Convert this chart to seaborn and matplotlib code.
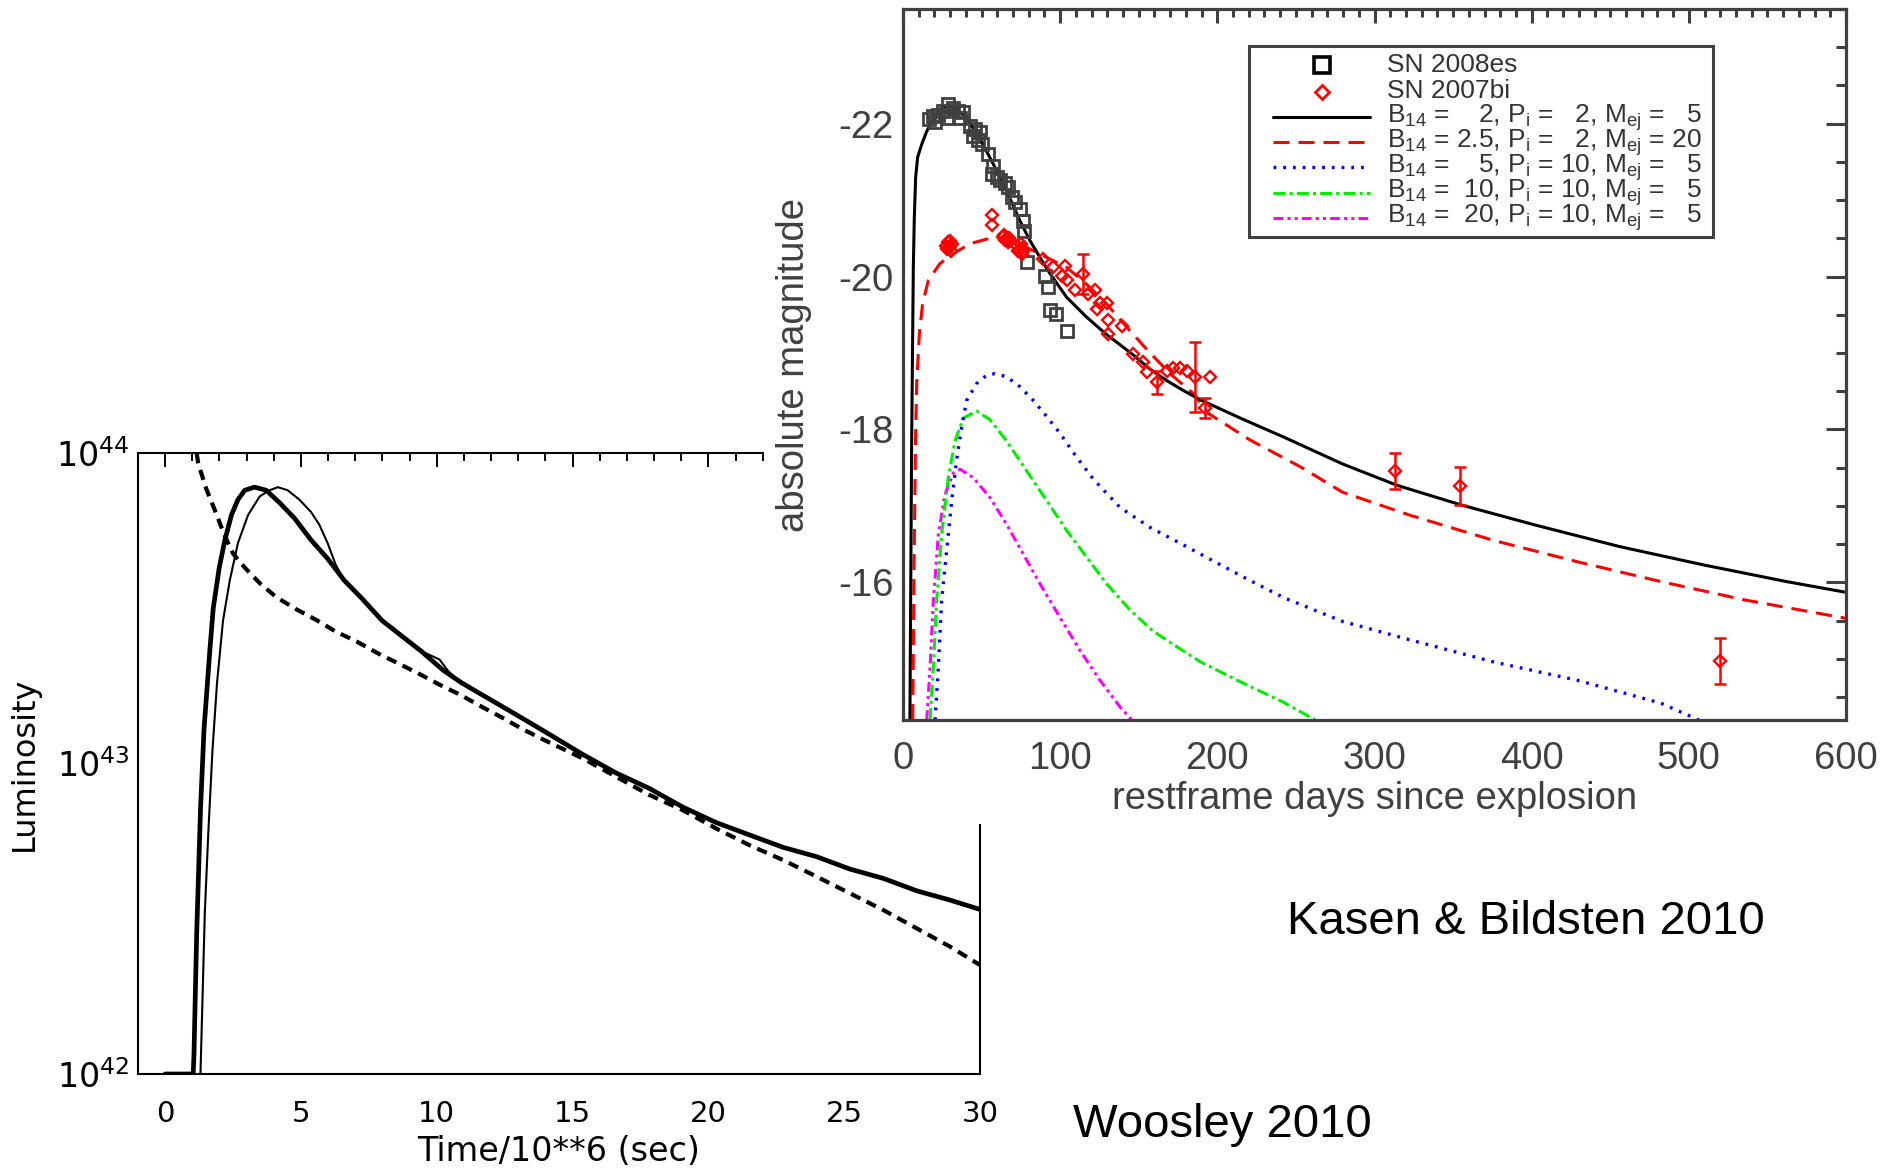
import matplotlib
matplotlib.use("Agg")
import matplotlib.pyplot as plt
import seaborn as sns
import numpy as np
from matplotlib.patches import Rectangle
from matplotlib import ticker

# ---------------- Woosley 2010: magnetar-powered light curve ----------------
# time in units of 1e6 s, luminosity as log10(L / erg s^-1)
time_thick = [0.00, 1.03, 1.06, 1.16, 1.30, 1.43, 1.65, 1.77, 1.99, 2.20, 2.44, 2.68,
              2.93, 3.29, 3.72, 4.21, 4.76, 5.37, 5.98, 6.59, 7.26, 7.99, 8.72, 9.45,
              10.24, 10.91, 11.89, 12.87, 13.84, 15.36, 16.59, 17.82, 19.05, 20.28,
              21.51, 22.75, 23.98, 25.21, 26.44, 27.67, 28.90, 30.00]
logl_thick = [42.00, 42.00, 42.06, 42.45, 42.85, 43.11, 43.37, 43.50, 43.63, 43.72, 43.80, 43.85,
              43.88, 43.89, 43.88, 43.84, 43.79, 43.72, 43.66, 43.59, 43.53, 43.46, 43.41, 43.36,
              43.30, 43.26, 43.21, 43.16, 43.11, 43.03, 42.97, 42.92, 42.86, 42.81,
              42.77, 42.73, 42.70, 42.66, 42.63, 42.59, 42.56, 42.53]

time_thin = [1.28, 1.30, 1.38, 1.46, 1.59, 1.74, 1.91, 2.13, 2.38, 2.68, 3.05, 3.48,
             3.84, 4.15, 4.51, 4.94, 5.37, 5.67, 5.98, 6.28, 6.65, 7.26, 7.99, 8.72,
             9.00, 9.60, 10.10, 10.40, 10.60, 10.91, 11.89, 12.87, 13.84, 15.36, 16.59,
             17.82, 19.05, 20.28, 21.51, 22.75, 23.98, 25.21, 26.44, 27.67, 28.90, 30.00]
logl_thin = [41.90, 42.00, 42.26, 42.52, 42.78, 43.04, 43.26, 43.46, 43.59, 43.71, 43.80, 43.86,
             43.88, 43.89, 43.88, 43.85, 43.81, 43.77, 43.71, 43.64, 43.58, 43.53, 43.46, 43.41,
             43.39, 43.355, 43.335, 43.30, 43.283, 43.26, 43.21, 43.16, 43.11, 43.03, 42.97,
             42.92, 42.86, 42.81, 42.77, 42.73, 42.70, 42.66, 42.63, 42.59, 42.56, 42.53]

time_dash = [1.16, 1.22, 1.52, 1.87, 2.17, 2.50, 2.93, 3.48, 4.09, 4.82, 5.55, 6.28,
             7.07, 7.87, 8.66, 9.39, 10.12, 10.85, 11.65, 12.38, 13.11, 13.90, 15.36,
             16.59, 17.82, 19.05, 20.28, 21.51, 22.75, 23.98, 25.21, 26.44, 27.67, 28.90, 30.00]
logl_dash = [44.00, 43.965, 43.883, 43.807, 43.738, 43.676, 43.631, 43.581, 43.536, 43.497,
             43.463, 43.425, 43.392, 43.353, 43.319, 43.287, 43.253, 43.222, 43.183, 43.149,
             43.113, 43.078, 43.017, 42.958, 42.899, 42.850, 42.791, 42.737, 42.689, 42.636,
             42.582, 42.528, 42.469, 42.410, 42.351]

left_yticks = [1e42, 1e43, 1e44]

# ---------------- Kasen & Bildsten 2010: magnetar models vs. data ----------------
# restframe days and absolute magnitude
day_m1 = [4.4, 5.0, 5.5, 6.15, 6.57, 7.2, 8.06, 9.3, 11.9, 15.1, 19.3, 23.5, 28.8, 33.0,
          40.5, 49.0, 57.5, 65.9, 74.4, 80.8, 87.2, 93.5, 104.1, 116.8, 129.6, 136.1,
          146.8, 157.1, 167.8, 178.4, 189.0, 215.6, 242.3, 279.6, 314.3, 355.6, 402.3,
          455.6, 509.0, 562.3, 600.0]
mag_m1 = [-14.2, -16.2, -17.8, -19.25, -20.12, -20.77, -21.30, -21.56, -21.73, -21.90, -22.06,
          -22.19, -22.24, -22.21, -22.08, -21.80, -21.47, -21.12, -20.73, -20.47, -20.25,
          -20.04, -19.73, -19.47, -19.24, -19.14, -18.97, -18.79, -18.64, -18.51, -18.39,
          -18.14, -17.90, -17.55, -17.27, -17.01, -16.75, -16.47, -16.23, -16.01, -15.87]

day_m2 = [6.2, 7.0, 8.0, 8.7, 10.4, 12.5, 16.1, 23.5, 32.0, 42.6, 53.2, 61.7, 70.2, 80.8,
          91.4, 104.1, 116.8, 129.6, 142.3, 155.0, 169.9, 184.7, 194.3, 221.0, 253.0,
          279.6, 322.3, 375.6, 429.0, 482.3, 535.6, 600.0]
mag_m2 = [-14.2, -16.2, -17.9, -18.6, -19.25, -19.65, -19.95, -20.17, -20.30, -20.43, -20.49,
          -20.51, -20.47, -20.36, -20.25, -20.12, -19.90, -19.64, -19.34, -19.05, -18.73,
          -18.47, -18.21, -17.86, -17.51, -17.18, -16.88, -16.55, -16.27, -16.01, -15.77, -15.53]

day_m3 = [20.4, 22.5, 24.6, 27.8, 31.0, 34.1, 37.3, 40.5, 46.8, 53.2, 58.5, 65.9, 74.4,
          82.9, 91.4, 99.9, 108.3, 121.1, 138.1, 157.1, 178.4, 189.3, 215.6, 242.3,
          279.6, 322.3, 375.6, 429.0, 482.3, 506.3]
mag_m3 = [-14.2, -14.89, -15.77, -16.42, -17.07, -17.60, -18.03, -18.38, -18.60, -18.71,
          -18.73, -18.69, -18.56, -18.38, -18.17, -17.95, -17.70, -17.35, -16.98, -16.72,
          -16.49, -16.37, -16.08, -15.80, -15.49, -15.25, -14.96, -14.72, -14.42, -14.2]

day_m4 = [17.2, 19.3, 21.4, 24.6, 28.8, 33.1, 38.4, 46.8, 55.3, 65.9, 78.6, 91.4, 104.1,
          116.8, 129.6, 144.4, 159.3, 176.3, 189.3, 215.6, 242.3, 262.3]
mag_m4 = [-14.2, -14.89, -15.76, -16.63, -17.37, -17.85, -18.15, -18.24, -18.13, -17.85,
          -17.46, -17.07, -16.68, -16.33, -15.98, -15.64, -15.36, -15.13, -14.96, -14.69,
          -14.43, -14.2]

day_m5 = [15.1, 17.2, 19.3, 22.5, 26.7, 32.0, 36.3, 44.7, 55.3, 65.9, 76.5, 87.2, 99.9,
          112.6, 125.3, 138.1, 145.5]
mag_m5 = [-14.2, -14.89, -15.76, -16.63, -17.15, -17.43, -17.48, -17.37, -17.11, -16.76,
          -16.37, -15.98, -15.54, -15.11, -14.72, -14.37, -14.2]

# SN 2008es photometry
day_08es = [16.8, 19.3, 22.5, 25.7, 28.8, 32.0, 35.2, 38.4, 20.4, 27.8, 36.3, 42.6, 45.8,
            49.0, 44.7, 47.9, 50.1, 54.3, 57.5, 56.4, 59.6, 61.7, 64.9, 67.0, 69.1, 71.2,
            74.4, 76.5, 77.0, 78.7, 90.4, 92.5, 93.5, 97.3, 104.1]
mag_08es = [-22.06, -22.10, -22.12, -22.17, -22.26, -22.21, -22.17, -22.15, -22.02, -22.08,
            -22.08, -21.97, -21.93, -21.89, -21.84, -21.78, -21.74, -21.60, -21.45, -21.34,
            -21.30, -21.26, -21.23, -21.17, -21.04, -20.97, -20.88, -20.73, -20.60, -20.19,
            -20.01, -19.86, -19.56, -19.51, -19.29]

# SN 2007bi photometry
day_07bi = [27.5, 28.5, 29.5, 30.5, 31.0, 28.0, 29.8, 30.2, 56.4, 56.4, 63.5, 65.0, 66.5,
            67.5, 64.2, 66.0, 68.2, 72.5, 74.0, 75.5, 76.0, 73.2, 74.8, 76.6, 89.3, 95.7,
            103.1, 101.0, 104.1, 109.4, 114.7, 117.9, 122.2, 125.3, 130.0, 123.2, 130.6,
            139.1, 130.6, 146.5, 152.9, 155.0, 161.4, 167.8, 172.0, 176.3, 180.5, 185.8,
            195.3, 192.1, 313.3, 354.7, 520.0]
mag_07bi = [-20.40, -20.45, -20.38, -20.33, -20.42, -20.36, -20.47, -20.40, -20.80, -20.67,
            -20.52, -20.48, -20.45, -20.50, -20.55, -20.51, -20.46, -20.40, -20.35, -20.30,
            -20.38, -20.33, -20.42, -20.34, -20.23, -20.12, -20.14, -20.01, -19.95, -19.82,
            -20.03, -19.77, -19.82, -19.66, -19.66, -19.58, -19.43, -19.36, -19.25, -18.99,
            -18.88, -18.75, -18.62, -18.77, -18.80, -18.80, -18.77, -18.69, -18.69, -18.28,
            -17.46, -17.26, -14.97]
err_day_07bi = [114.7, 161.4, 185.8, 192.1, 313.3, 354.7, 520.0]
err_mag_07bi = [-20.03, -18.62, -18.69, -18.28, -17.46, -17.26, -14.97]
err_size_07bi = [0.26, 0.15, 0.46, 0.13, 0.235, 0.25, 0.305]

model_labels = [
    r"$\mathregular{B_{14}}$ =    2, $\mathregular{P_{i}}$ =   2, $\mathregular{M_{ej}}$ =   5",
    r"$\mathregular{B_{14}}$ = 2.5, $\mathregular{P_{i}}$ =   2, $\mathregular{M_{ej}}$ = 20",
    r"$\mathregular{B_{14}}$ =    5, $\mathregular{P_{i}}$ = 10, $\mathregular{M_{ej}}$ =   5",
    r"$\mathregular{B_{14}}$ =  10, $\mathregular{P_{i}}$ = 10, $\mathregular{M_{ej}}$ =   5",
    r"$\mathregular{B_{14}}$ =  20, $\mathregular{P_{i}}$ = 10, $\mathregular{M_{ej}}$ =   5",
]
data_labels = ["SN 2008es", "SN 2007bi"]

# ---------------- styling ----------------
sns.set_theme(style="white")
plt.rcParams["font.family"] = ["Liberation Sans", "DejaVu Sans"]
plt.rcParams["axes.unicode_minus"] = False
plt.rcParams["lines.scale_dashes"] = False

GRAY = "#404040"
TXT = "#333333"
HERSHEY = "DejaVu Sans"
W, H = 1886.0, 1170.0

fig = plt.figure(figsize=(W / 100, H / 100), dpi=100)
fig.patch.set_facecolor("white")

# ---- left panel ----
axL = fig.add_axes([138 / W, 96 / H, 842 / W, 621 / H])
axL.set_zorder(0)
axL.set_facecolor("white")
sns.lineplot(x=time_thick, y=np.power(10.0, logl_thick), ax=axL, color="black", lw=3.4,
             sort=False, estimator=None)
sns.lineplot(x=time_thin, y=np.power(10.0, logl_thin), ax=axL, color="black", lw=1.5,
             sort=False, estimator=None)
sns.lineplot(x=time_dash, y=np.power(10.0, logl_dash), ax=axL, color="black", lw=3.0,
             sort=False, estimator=None, linestyle=(0, (7.5, 5.0)))
axL.set_yscale("log")
axL.set_xlim(-1, 30)
axL.set_ylim(1e42, 1e44)
axL.yaxis.set_major_locator(ticker.FixedLocator(left_yticks))
axL.yaxis.set_minor_locator(ticker.NullLocator())
axL.yaxis.set_major_formatter(ticker.LogFormatterMathtext())
axL.xaxis.set_major_locator(ticker.MultipleLocator(5))
axL.xaxis.set_minor_locator(ticker.MultipleLocator(1))
for s in axL.spines.values():
    s.set_color("black")
    s.set_linewidth(1.5)
axL.tick_params(which="both", direction="in", top=True, right=True, color="black",
                width=1.4, labelcolor="black", labelfontfamily=HERSHEY)
axL.tick_params(axis="x", which="major", length=10, pad=19, labelsize=21)
axL.tick_params(axis="x", which="minor", length=5.8)
axL.tick_params(axis="y", which="major", length=12, pad=6, labelsize=24)
axL.set_xlabel("Time/10**6 (sec)", fontfamily=HERSHEY, fontsize=24, color="black", va="center")
axL.xaxis.set_label_coords(0.5, -0.1256)
axL.set_ylabel("Luminosity", fontfamily=HERSHEY, fontsize=23, color="black", va="center")
axL.yaxis.set_label_coords(-0.1354, 0.5)

# white backing that the right panel sits on
cover = Rectangle((764 / W, (H - 824) / H), 1.0, 1.0, transform=fig.transFigure,
                  facecolor="white", edgecolor="none", zorder=1)
fig.add_artist(cover)

# ---- right panel ----
AX_L, AX_R, AX_T, AX_B = 903.0, 1846.0, 9.0, 720.0
axR = fig.add_axes([AX_L / W, (H - AX_B) / H, (AX_R - AX_L) / W, (AX_B - AX_T) / H])
axR.set_zorder(2)
axR.set_facecolor("white")

style_m1 = dict(color="black", lw=2.2, linestyle="-")
style_m2 = dict(color="#ff0000", lw=2.2, linestyle=(0, (11.5, 6.5)))
style_m3 = dict(color="#0000ff", lw=2.4, linestyle=(0, (2.0, 5.0)))
style_m4 = dict(color="#00ee00", lw=2.2, linestyle=(0, (8.6, 3.0, 2.2, 3.0)))
style_m5 = dict(color="#ff00ff", lw=2.2, linestyle=(0, (7.0, 3.0, 2.2, 3.0, 2.2, 3.0)))
model_styles = [style_m1, style_m2, style_m3, style_m4, style_m5]

for d, m, st in [(day_m5, mag_m5, style_m5), (day_m4, mag_m4, style_m4),
                 (day_m3, mag_m3, style_m3), (day_m2, mag_m2, style_m2),
                 (day_m1, mag_m1, style_m1)]:
    sns.lineplot(x=d, y=m, ax=axR, sort=False, estimator=None, **st)

sq_style = dict(ls="none", marker="s", ms=9.0, mfc="none", mew=2.0)
dm_style = dict(ls="none", marker="D", ms=6.2, mfc="none", mec="#ff0000", mew=1.7)
axR.plot(day_08es, mag_08es, mec=GRAY, zorder=3, **sq_style)
axR.errorbar(err_day_07bi, err_mag_07bi, yerr=err_size_07bi, fmt="none", ecolor="#ff0000",
             elinewidth=1.8, capsize=4.5, capthick=1.8, zorder=4)
axR.plot(day_07bi, mag_07bi, zorder=4, **dm_style)

axR.set_xlim(0, 600)
axR.set_ylim(-14.2, -23.5)
axR.xaxis.set_major_locator(ticker.MultipleLocator(100))
axR.xaxis.set_minor_locator(ticker.MultipleLocator(10))
axR.yaxis.set_major_locator(ticker.MultipleLocator(2))
axR.yaxis.set_minor_locator(ticker.MultipleLocator(0.5))
axR.yaxis.set_major_formatter(ticker.FormatStrFormatter("%d"))
for s in axR.spines.values():
    s.set_color(GRAY)
    s.set_linewidth(2.3)
axR.tick_params(which="both", direction="in", top=True, right=True, color=GRAY, width=2.2,
                labelcolor=GRAY, labelsize=27.5)
axR.tick_params(axis="x", which="major", length=10, pad=15)
axR.tick_params(axis="x", which="minor", length=5.4)
axR.tick_params(axis="y", which="major", length=14.4, pad=7)
axR.tick_params(axis="y", which="minor", length=7.2)
axR.set_xlabel("restframe days since explosion", fontsize=27.5, color=GRAY, va="center")
axR.xaxis.set_label_coords(0.5, -0.111)
axR.set_ylabel("absolute magnitude", fontsize=27.5, color=GRAY, va="center")
axR.yaxis.set_label_coords(-0.1156, 0.5)

# ---- legend box (pixel layout converted to axes fractions) ----
def ax_x(px):
    return (px - AX_L) / (AX_R - AX_L)


def ax_y(py):
    return (AX_B - py) / (AX_B - AX_T)


box_x0, box_x1, box_y0, box_y1 = 1249.0, 1713.0, 46.0, 237.0
axR.add_patch(Rectangle((ax_x(box_x0), ax_y(box_y1)), ax_x(box_x1) - ax_x(box_x0),
                        ax_y(box_y0) - ax_y(box_y1), transform=axR.transAxes,
                        facecolor="white", edgecolor=GRAY, lw=2.2, zorder=5, clip_on=False))
handle_x0, handle_x1, text_x = 1273.0, 1370.0, 1387.0
handle_rows = [65.0, 91.7, 116.7, 141.7, 166.7, 193.3, 218.3]
text_rows = [71.7, 98.3, 123.3, 148.3, 173.3, 198.3, 223.3]
labels_all = data_labels + model_labels

hx_c = 0.5 * (ax_x(handle_x0) + ax_x(handle_x1))
axR.plot([hx_c], [ax_y(handle_rows[0])], transform=axR.transAxes, clip_on=False, zorder=6,
         ls="none", marker="s", ms=11.0, mfc="none", mec="black", mew=2.6)
axR.plot([hx_c], [ax_y(handle_rows[1])], transform=axR.transAxes, clip_on=False, zorder=6,
         ls="none", marker="D", ms=7.6, mfc="none", mec="#ff0000", mew=2.0)
for hy, st in zip(handle_rows[2:], model_styles):
    axR.plot([ax_x(handle_x0), ax_x(handle_x1)], [ax_y(hy), ax_y(hy)],
             transform=axR.transAxes, clip_on=False, zorder=6, **st)
for ty, lab in zip(text_rows, labels_all):
    axR.text(ax_x(text_x), ax_y(ty), lab, transform=axR.transAxes, fontsize=19, color=TXT,
             ha="left", va="baseline", zorder=6)

fig.text(1526 / W, 1 - 922 / H, "Kasen & Bildsten 2010", fontsize=34, color="black",
         ha="center", va="center")
fig.text(1222 / W, 1 - 1125 / H, "Woosley 2010", fontsize=34, color="black",
         ha="center", va="center")

fig.savefig("out.png", dpi=100, facecolor="white")
